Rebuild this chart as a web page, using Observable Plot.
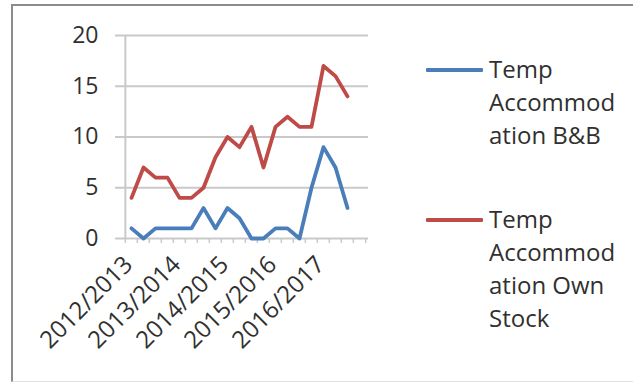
<!DOCTYPE html>
<html><head><meta charset="utf-8">
<script src="https://cdn.jsdelivr.net/npm/d3@7"></script>
<script src="https://cdn.jsdelivr.net/npm/@observablehq/plot@0.6"></script>
<style>
body{margin:0;background:#fff;font-family:"Open Sans",sans-serif;}
#wrap{position:relative;width:633px;height:382px;overflow:hidden;background:#fff;}
#frame{position:absolute;left:11px;top:4px;width:640px;height:375px;border-left:2px solid #8c8c8c;border-top:2px solid #8c8c8c;border-bottom:1px solid #e2e2e2;}
#chart{position:absolute;left:0;top:0;}
.sw{position:absolute;left:426px;width:57px;height:4px;border-radius:1px;}
.lt{position:absolute;left:489px;font-family:"Open Sans",sans-serif;font-size:24px;line-height:33px;color:#303030;white-space:nowrap;}
</style>
</head><body>
<div id="wrap"><div id="frame"></div><div id="chart"></div></div>
<script>
const years = ["2012/2013","2013/2014","2014/2015","2015/2016","2016/2017"];
const quarters = ["Q1","Q2","Q3","Q4"];
const periods = years.flatMap(y => quarters.map(q => y + " " + q));
const bnb = [1,0,1,1,1,1,3,1,3,2,0,0,1,1,0,5,9,7,3];
const ownStock = [4,7,6,6,4,4,5,8,10,9,11,7,11,12,11,11,17,16,14];
const seriesNames = ["Temp Accommodation B&B","Temp Accommodation Own Stock"];
const legendLines = [["Temp","Accommod","ation B&B"],["Temp","Accommod","ation Own","Stock"]];
const seriesColors = ["#4a7ebb","#be4b48"];
const yTicks = [0,5,10,15,20];

const rows = [
  ...bnb.map((v,i) => ({period: periods[i], value: v, series: seriesNames[0]})),
  ...ownStock.map((v,i) => ({period: periods[i], value: v, series: seriesNames[1]}))
];

const W = 400, ML = 122, MR = 32;
const step = (W - ML - MR) / periods.length;
const grid = "#c9c9c9";

const chart = Plot.plot({
  width: W, height: 382,
  marginLeft: ML, marginRight: MR, marginTop: 35, marginBottom: 144,
  style: {fontFamily: "Open Sans", fontSize: "23px", color: "#303030", background: "transparent", overflow: "visible"},
  x: {type: "point", domain: periods, padding: 0.5},
  y: {domain: [0, 20]},
  color: {domain: seriesNames, range: seriesColors},
  marks: [
    Plot.gridY(yTicks, {stroke: grid, strokeOpacity: 1, strokeWidth: 2}),
    Plot.axisY(yTicks, {tickSize: 7, tickPadding: 17, stroke: grid, strokeWidth: 2, fill: "#303030", label: null}),
    Plot.ruleX([periods[0]], {dx: -step/2, y1: 0, y2: 20, stroke: grid, strokeWidth: 2}),
    Plot.axisX(periods, {tickSize: 5, tickFormat: () => "", dx: -step/2, stroke: grid, strokeWidth: 1.5, label: null}),
    Plot.axisX([periods[periods.length-1]], {tickSize: 5, tickFormat: () => "", dx: step/2, stroke: grid, strokeWidth: 1.5, label: null}),
    Plot.axisX(periods.filter((d,i) => i % 4 === 0), {tickSize: 0, tickPadding: 22, dx: -3, tickRotate: -45, fontSize: 24, tickFormat: d => d.split(" ")[0], fill: "#303030", label: null}),
    Plot.line(rows, {x: "period", y: "value", z: "series", stroke: "series", strokeWidth: 3.8, strokeLinejoin: "round"})
  ]
});
document.getElementById("chart").appendChild(chart);

const wrap = document.getElementById("wrap");
const swY = [68, 218];
const textTop = [52, 202];
seriesNames.forEach((name, k) => {
  const sw = document.createElement("div");
  sw.className = "sw";
  sw.style.top = swY[k] + "px";
  sw.style.background = chart.scale("color").apply(name);
  wrap.appendChild(sw);
  const t = document.createElement("div");
  t.className = "lt";
  t.style.top = textTop[k] + "px";
  t.innerHTML = legendLines[k].map(s => s.replace(/&/g,"&amp;")).join("<br>");
  wrap.appendChild(t);
});
</script>
</body></html>
